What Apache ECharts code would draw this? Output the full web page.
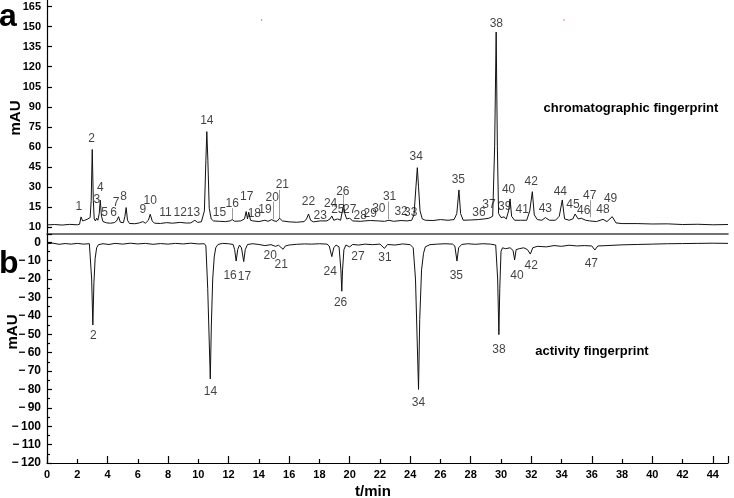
<!DOCTYPE html>
<html><head><meta charset="utf-8">
<script src="https://cdn.jsdelivr.net/npm/echarts@6/dist/echarts.min.js"></script>
<style>html,body{margin:0;padding:0;background:#fff}#c{width:734px;height:498px}</style>
</head><body><div id="c"></div>
<script>
// ---- data ----
const xTickLabels = [0,2,4,6,8,10,12,14,16,18,20,22,24,26,28,30,32,34,36,38,40,42,44];
const topTickValues = [0,15,30,45,60,75,90,105,120,135,150,165];
const topTickText = ['10','15','30','45','60','75','90','105','120','135','150','165'];

const chromTime = [0,0.5,1.0,1.5,2.0,2.15,2.25,2.35,2.5,2.7,2.85,2.92,2.99,3.06,3.12,3.2,3.28,3.36,3.45,3.52,3.6,3.7,3.8,3.95,4.2,4.45,4.6,4.73,4.85,5.05,5.15,5.23,5.32,5.45,5.8,6.1,6.33,6.5,6.7,6.82,6.95,7.1,7.5,7.9,8.3,8.8,9.2,9.5,9.77,9.95,10.2,10.4,10.5,10.56,10.63,10.72,10.85,11.0,11.4,11.8,12.1,12.24,12.4,12.8,13.05,13.16,13.25,13.33,13.45,13.6,13.7,14.0,14.4,14.6,14.85,15.0,15.2,15.37,15.55,16.0,16.5,17.0,17.15,17.28,17.42,17.6,18.05,18.5,18.7,18.82,18.95,19.2,19.4,19.52,19.6,19.68,19.8,20.0,20.2,20.7,21.0,21.36,21.9,22.3,22.6,22.9,23.4,23.8,24.1,24.25,24.38,24.47,24.55,24.65,24.8,25.0,25.5,26.0,26.5,26.9,27.08,27.22,27.33,27.5,28.0,28.5,28.9,29.2,29.45,29.58,29.68,29.76,29.84,30.0,30.2,30.35,30.5,30.6,30.7,30.9,31.3,31.7,31.9,32.07,32.2,32.4,32.7,32.93,33.2,33.6,33.85,34.05,34.2,34.5,34.75,34.9,35.1,35.3,35.6,35.86,36.3,36.74,37.0,37.35,37.6,38,39,40,41,42,43,44,45];
const chromSignal = [1.5,1.8,1.4,1.9,1.6,2.0,7.5,4.5,5.0,6.0,7.0,20,58,20,6,4.5,6.5,5,10,20,8,4,4.5,3.0,2.8,3.2,4.5,7.7,3.5,3.2,8,14.5,5,2.6,2.4,3.0,4,2.8,5.0,9.5,4.5,2.8,2.6,3.2,2.8,3.4,2.9,3.0,5.0,3.4,3.8,12,50,71.4,50,14,6,4.5,4.2,4,4.5,5.5,4.2,4.5,6,11.5,6,11,5,4.5,5,4,5,4.2,5.5,4.5,4.2,6.5,4.5,3.8,3.5,4,6,9.7,5,3.8,4.5,4.5,6,8.2,5,6,5,12,16.5,10,6,6.5,4.5,4.2,4.5,4.8,4.5,4.2,5,4.2,4.8,4.5,5,9,30,44.4,30,12,6,5,4.8,5.5,5.0,5.5,10,27.7,10,5,5.2,5.5,6,6.5,8,60,146,60,10,7,7.5,6,12,21,8,5,5,5,12,26.4,9,5.5,5,7,5,5,8,20.2,6,5,6,9.7,6,6.5,5,4.5,4,5.7,4,7.7,3,2.5,2.5,2.2,2.3,1.8,2,1.6,1.8];

const actTime = [0,0.4,0.8,1.2,1.6,2.0,2.4,2.8,2.87,2.95,3.03,3.1,3.18,3.28,3.4,3.7,4.1,4.5,5.0,5.5,6.0,6.5,7.0,7.5,8.0,8.5,9.0,9.5,10.0,10.4,10.5,10.62,10.79,10.86,10.95,11.05,11.15,11.3,11.6,12.0,12.3,12.4,12.5,12.6,12.72,12.85,13.0,13.1,13.25,13.6,14.0,14.4,14.8,15.1,15.3,15.6,15.75,16.0,16.5,17.0,17.5,18.0,18.5,18.65,18.82,18.95,19.1,19.3,19.42,19.48,19.53,19.62,19.75,20.0,20.2,20.6,21.0,21.5,22.0,22.3,22.5,23.0,23.5,24.0,24.2,24.35,24.55,24.63,24.75,24.88,25.0,25.3,25.8,26.3,26.8,26.95,27.09,27.2,27.4,27.8,28.3,28.8,29.3,29.65,29.78,29.86,29.92,30.0,30.1,30.3,30.6,30.8,30.9,31.0,31.2,31.5,31.75,31.94,32.1,32.4,33.0,33.5,34.0,34.5,35.0,35.5,36.0,36.2,36.4,37.0,38.0,39.0,40.0,41.0,42.0,43.0,44.0,45.0];
const actSignal = [-0.8,-0.5,-1.1,-0.7,-1.0,-0.6,-1.0,-0.8,-1.5,-20,-45,-22,-9,-3,-1.3,-0.8,-1.2,-0.6,-1.0,-0.5,-0.9,-0.6,-1.1,-0.7,-1.0,-0.6,-0.9,-0.5,-0.9,-0.8,-2,-25,-74.3,-45,-20,-8,-3,-1.2,-0.6,-0.8,-1.2,-4,-10.2,-4,-1.5,-3,-10.5,-4,-1.2,-0.8,-1.2,-1.8,-1.3,-2.2,-1.6,-3.8,-2,-1.5,-1.1,-0.9,-1.0,-0.8,-1.0,-2,-7.8,-3,-1.5,-2.5,-15,-26.6,-15,-4,-1.5,-2.5,-1.2,-1.5,-1.0,-1.3,-1.0,-3.3,-1.2,-1.5,-0.9,-1.3,-3,-20,-80,-42,-15,-6,-2.5,-1.3,-1.0,-0.8,-1.0,-2,-10.2,-3,-1.2,-0.8,-1.1,-0.8,-1.0,-1.5,-20,-50.2,-25,-5,-3,-3.5,-3,-4.5,-9.6,-4,-3.5,-3,-4,-6.4,-3,-2.2,-2.5,-1.8,-2.2,-1.6,-2.0,-1.8,-2,-4.2,-2,-1.8,-1.4,-1.2,-1.0,-0.8,-0.7,-0.6,-0.5,-0.6];

const topPeakIds = ['1','2','3','4','5','6','7','8','9','10','11','12','13','14','15','16','17','18','19','20','21','22','23','24','25','26','27','28','29','30','31','32','33','34','35','36','37','38','39','40','41','42','43','44','45','46','47','48','49'];
const topLabelTime = [2.1,2.94,3.29,3.52,3.8,4.4,4.57,5.06,6.33,6.82,7.83,8.8,9.68,10.56,11.4,12.24,13.2,13.7,14.4,14.88,15.55,17.28,18.05,18.74,19.22,19.55,20.0,20.7,21.36,21.93,22.64,23.4,24.03,24.4,27.18,28.54,29.2,29.69,30.24,30.5,31.4,32.0,32.93,33.92,34.75,35.46,35.86,36.74,37.24];
const topLabelSignal = [15.2,66,20.7,29.4,10.7,10.5,18.2,22.5,12.7,20,10.7,10.7,10.7,79.4,10.5,17.7,22.7,9.7,13.2,22.2,32,19,8.2,17.7,12.7,26.4,12.7,8.2,10.2,14,22.7,11.5,11,52.7,35.2,11,16.5,152,15.2,28.2,12.7,34,14,26.4,16.5,12.2,23.2,12.7,21.5];

const actPeakIds = ['2','14','16','17','20','21','24','26','27','31','34','35','38','40','42','47'];
const actLabelTime = [3.07,10.8,12.1,13.05,14.75,15.48,18.72,19.4,20.55,22.33,24.55,27.05,29.86,31.05,32.0,35.97];
const actLabelSignal = [-51,-81.4,-18.4,-18.9,-7.5,-12,-16.2,-32.9,-7.8,-8.4,-87,-18.4,-58.4,-18.4,-12.9,-11.6];

// leader lines: [time, labelEnd, peakEnd]
const leaderTime = [12.24,14.92,15.37,19.6,22.57,35.93];
const leaderTop = [14,19,27.7,24,19,20];
const leaderBottom = [6,5.8,6,16,5.8,7.3];

const redDotTime = [14.18,34.16];
const redDotSignal = [155,155];

// ---- chart ----
const chart = echarts.init(document.getElementById('c'), null, {renderer:'canvas'});
const FONT = 'Liberation Sans, Arial, sans-serif';
const pair = (a,b)=>a.map((t,i)=>[t,b[i]]);

const tickLabelStyle = {color:'#000', fontWeight:'bold', fontSize:11, fontFamily:FONT};

const option = {
  animation:false,
  backgroundColor:'#fff',
  grid:[
    {left:47, right:6, top:0, height:234},
    {left:47, right:6, top:234, height:229}
  ],
  xAxis:[
    {type:'value', gridIndex:0, min:0, max:45, interval:4,
     axisLine:{show:true, onZero:false, lineStyle:{color:'#444', width:1.6}},
     axisTick:{show:false}, axisLabel:{show:false}, splitLine:{show:false}},
    {type:'value', gridIndex:1, min:0, max:45, interval:4,
     axisLine:{show:true, onZero:false, lineStyle:{color:'#000', width:1.2}},
     axisTick:{show:true, inside:true, length:7, lineStyle:{color:'#000', width:1.2}},
     minorTick:{show:true, splitNumber:2, length:4, lineStyle:{color:'#000', width:1.2}},
     axisLabel:{show:true, customValues:xTickLabels, margin:6, ...tickLabelStyle},
     splitLine:{show:false}}
  ],
  yAxis:[
    {type:'value', gridIndex:0, min:-5.3, max:170,
     axisLine:{show:true, onZero:false, lineStyle:{color:'#000', width:1.2}},
     axisTick:{show:true, inside:true, length:5, customValues:topTickValues, lineStyle:{color:'#000', width:1.2}},
     axisLabel:{show:true, customValues:topTickValues, margin:6, ...tickLabelStyle,
       formatter:(v)=>{const i=topTickValues.indexOf(v); return i>=0?topTickText[i]:'';}},
     splitLine:{show:false}},
    {type:'value', gridIndex:1, min:-120, max:4.5, interval:10,
     axisLine:{show:true, onZero:false, lineStyle:{color:'#000', width:1.2}},
     axisTick:{show:true, inside:true, length:5, lineStyle:{color:'#000', width:1.2}},
     minorTick:{show:true, splitNumber:2, length:3, lineStyle:{color:'#000', width:1.2}},
     axisLabel:{show:true, margin:6, ...tickLabelStyle, fontSize:12,
       formatter:(v)=> v>0.1 ? '' : (v<0 ? '\u2212\u2009'+Math.abs(v) : String(v))},
     splitLine:{show:false}}
  ],
  series:[
    {type:'line', xAxisIndex:0, yAxisIndex:0, data:pair(chromTime, chromSignal),
     showSymbol:false, symbol:'none', lineStyle:{color:'#111', width:1}, z:3},
    {type:'line', xAxisIndex:1, yAxisIndex:1, data:pair(actTime, actSignal),
     showSymbol:false, symbol:'none', lineStyle:{color:'#111', width:1}, z:3},
    {type:'lines', coordinateSystem:'cartesian2d', xAxisIndex:0, yAxisIndex:0, polyline:false,
     data:leaderTime.map((t,i)=>({coords:[[t,leaderTop[i]],[t,leaderBottom[i]]]})),
     lineStyle:{color:'#999', width:1, opacity:1}, z:2},
    {type:'scatter', xAxisIndex:0, yAxisIndex:0, symbolSize:0, z:5,
     data:topPeakIds.map((id,i)=>({name:id, value:[topLabelTime[i], topLabelSignal[i]]})),
     label:{show:true, position:'inside', formatter:'{b}', color:'#111', fontSize:12, fontFamily:FONT}},
    {type:'scatter', xAxisIndex:1, yAxisIndex:1, symbolSize:0, z:5,
     data:actPeakIds.map((id,i)=>({name:id, value:[actLabelTime[i], actLabelSignal[i]]})),
     label:{show:true, position:'inside', formatter:'{b}', color:'#111', fontSize:12, fontFamily:FONT}},
    {type:'scatter', xAxisIndex:0, yAxisIndex:0, symbolSize:1.5, z:5,
     itemStyle:{color:'#e33'}, data:pair(redDotTime, redDotSignal)}
  ],
  graphic:[
    {type:'text', left:-1, top:1, style:{text:'a', font:'bold 32px '+FONT, fill:'#000'}},
    {type:'text', left:-1, top:248, style:{text:'b', font:'bold 32px '+FONT, fill:'#000'}},
    {type:'text', x:16, y:118, rotation:Math.PI/2, style:{text:'mAU', font:'bold 15px '+FONT, fill:'#000', align:'center', verticalAlign:'middle'}},
    {type:'text', x:13, y:332, rotation:Math.PI/2, style:{text:'mAU', font:'bold 15px '+FONT, fill:'#000', align:'center', verticalAlign:'middle'}},
    {type:'text', x:373, y:492, style:{text:'t/min', font:'bold 15px '+FONT, fill:'#000', align:'center', verticalAlign:'middle'}},
    {type:'text', x:631, y:108, style:{text:'chromatographic fingerprint', font:'bold 13px '+FONT, fill:'#000', align:'center', verticalAlign:'middle'}},
    {type:'text', x:592, y:351, style:{text:'activity fingerprint', font:'bold 13px '+FONT, fill:'#000', align:'center', verticalAlign:'middle'}}
  ]
};
chart.setOption(option);
</script>
</body></html>
